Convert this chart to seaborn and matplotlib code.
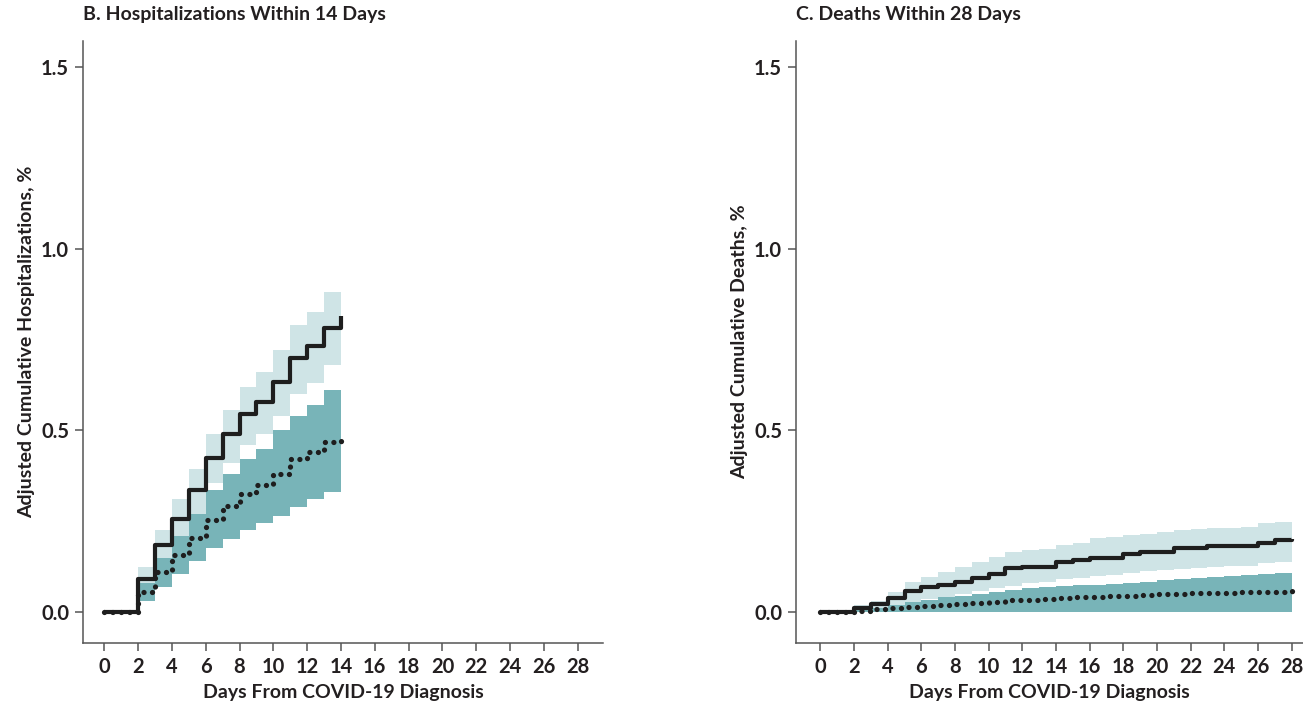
import matplotlib
matplotlib.use('Agg')
import matplotlib.pyplot as plt
import seaborn as sns
import pandas as pd

# Panel B: hospitalizations within 14 days
hosp_days = list(range(0, 15))
hosp_solid = [0, 0, 0.092, 0.184, 0.257, 0.337, 0.424, 0.489, 0.544, 0.578, 0.633, 0.700, 0.732, 0.782, 0.816]
hosp_solid_lo = [0, 0, 0.050, 0.120, 0.190, 0.270, 0.355, 0.410, 0.460, 0.490, 0.540, 0.600, 0.630, 0.680, 0.680]
hosp_solid_hi = [0, 0, 0.125, 0.225, 0.310, 0.395, 0.490, 0.555, 0.620, 0.660, 0.720, 0.790, 0.825, 0.880, 0.880]
hosp_dotted = [0, 0, 0.056, 0.111, 0.157, 0.205, 0.253, 0.291, 0.326, 0.349, 0.381, 0.422, 0.440, 0.468, 0.490]
hosp_dotted_lo = [0, 0, 0.030, 0.070, 0.105, 0.140, 0.175, 0.200, 0.225, 0.245, 0.265, 0.290, 0.310, 0.330, 0.330]
hosp_dotted_hi = [0, 0, 0.080, 0.150, 0.210, 0.270, 0.335, 0.380, 0.420, 0.450, 0.500, 0.540, 0.570, 0.610, 0.610]

# Panel C: deaths within 28 days
death_days = list(range(0, 29))
death_solid = [0, 0, 0.012, 0.022, 0.039, 0.058, 0.068, 0.074, 0.083, 0.095, 0.104, 0.120, 0.125, 0.125,
               0.138, 0.143, 0.150, 0.150, 0.159, 0.166, 0.166, 0.175, 0.175, 0.181, 0.181, 0.181,
               0.190, 0.198, 0.202]
death_solid_lo = [0, 0, 0, 0.005, 0.012, 0.025, 0.035, 0.042, 0.050, 0.058, 0.066, 0.072, 0.079, 0.082,
                  0.090, 0.093, 0.100, 0.103, 0.108, 0.112, 0.115, 0.119, 0.121, 0.124, 0.126, 0.128,
                  0.134, 0.138, 0.138]
death_solid_hi = [0, 0, 0.020, 0.030, 0.056, 0.083, 0.097, 0.111, 0.123, 0.138, 0.152, 0.165, 0.170, 0.174,
                  0.185, 0.190, 0.203, 0.206, 0.212, 0.216, 0.219, 0.226, 0.228, 0.230, 0.232, 0.234,
                  0.246, 0.248, 0.248]
death_dotted = [0, 0, 0.003, 0.007, 0.011, 0.014, 0.017, 0.020, 0.022, 0.025, 0.028, 0.032, 0.034, 0.036,
                0.038, 0.040, 0.042, 0.044, 0.045, 0.047, 0.049, 0.050, 0.051, 0.052, 0.053, 0.054,
                0.055, 0.056, 0.057]
death_dotted_lo = [0, 0] + [0.001] * 27
death_dotted_hi = [0, 0, 0.006, 0.012, 0.020, 0.028, 0.034, 0.040, 0.045, 0.050, 0.056, 0.061, 0.065, 0.068,
                   0.071, 0.073, 0.075, 0.078, 0.081, 0.084, 0.088, 0.090, 0.093, 0.096, 0.099, 0.101,
                   0.104, 0.108, 0.108]

x_ticks = list(range(0, 29, 2))
y_ticks = [0.0, 0.5, 1.0, 1.5]

light = '#cfe4e6'
dark = '#78b4b8'
ink = '#231f20'

sns.set_style('ticks')
plt.rcParams['font.family'] = ['Lato', 'DejaVu Sans']

fig = plt.figure(figsize=(13.03, 7.05), dpi=100)
ax_b = fig.add_axes([83 / 1303, 62 / 705, 520 / 1303, 602 / 705])
ax_c = fig.add_axes([796 / 1303, 62 / 705, 507 / 1303, 602 / 705])


def draw_panel(ax, days, solid, s_lo, s_hi, dotted, d_lo, d_hi, title, ylabel, xlim):
    df = pd.DataFrame({'day': days, 'solid': solid, 'dotted': dotted})
    ax.fill_between(days, s_lo, s_hi, step='post', color=light, linewidth=0)
    ax.fill_between(days, d_lo, d_hi, step='post', color=dark, linewidth=0)
    sns.lineplot(data=df, x='day', y='solid', ax=ax, color='#1e1e1e', linewidth=3.0,
                 drawstyle='steps-post', solid_capstyle='butt')
    sns.lineplot(data=df, x='day', y='dotted', ax=ax, color='#1e1e1e', linewidth=3.8,
                 drawstyle='steps-post', linestyle=(0, (0.01, 1.6)), dash_capstyle='round')
    ax.set_xlim(*xlim)
    ax.set_ylim(-0.0853, 1.572)
    ax.set_xticks(x_ticks)
    ax.set_yticks(y_ticks)
    ax.set_yticklabels([f'{v:.1f}' for v in y_ticks])
    ax.tick_params(axis='both', length=6, width=1.1, color='#555555', labelsize=14.5,
                   labelcolor=ink, pad=4)
    for lab in ax.get_xticklabels() + ax.get_yticklabels():
        lab.set_fontweight('bold')
    ax.set_xlabel('Days From COVID-19 Diagnosis', fontsize=14, fontweight='bold', color=ink, labelpad=5)
    ax.set_ylabel(ylabel, fontsize=14, fontweight='bold', color=ink, labelpad=4)
    ax.set_title(title, loc='left', fontsize=14, fontweight='bold', color=ink, pad=15)
    for side in ['top', 'right']:
        ax.spines[side].set_visible(False)
    for side in ['left', 'bottom']:
        ax.spines[side].set_color('#555555')
        ax.spines[side].set_linewidth(1.1)


draw_panel(ax_b, hosp_days, hosp_solid, hosp_solid_lo, hosp_solid_hi,
           hosp_dotted, hosp_dotted_lo, hosp_dotted_hi,
           'B. Hospitalizations Within 14 Days', 'Adjusted Cumulative Hospitalizations, %',
           (-1.26, 29.5))
draw_panel(ax_c, death_days, death_solid, death_solid_lo, death_solid_hi,
           death_dotted, death_dotted_lo, death_dotted_hi,
           'C. Deaths Within 28 Days', 'Adjusted Cumulative Deaths, %',
           (-1.45, 28.68))

fig.savefig('out.png', dpi=100)
